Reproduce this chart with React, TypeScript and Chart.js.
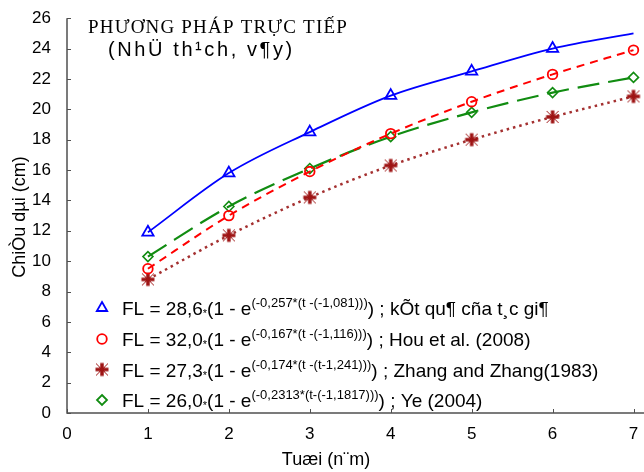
import React, { useEffect, useRef } from 'react';
import { Chart, registerables } from 'chart.js';
Chart.register(...registerables);

// ---- data ----
const ages = [1, 2, 3, 4, 5, 6, 7];
const tacGia = [11.9, 15.8, 18.5, 20.9, 22.5, 24.0, 25.0];
const tacGiaMarker = [1, 1, 1, 1, 1, 1, 0];
const hou = [9.5, 13.0, 15.9, 18.4, 20.5, 22.3, 23.9];
const zhang = [8.8, 11.7, 14.2, 16.3, 18.0, 19.5, 20.85];
const ye = [10.3, 13.6, 16.1, 18.2, 19.8, 21.1, 22.1];

const xMin = 0, xMax = 7, xStep = 1;
const yMin = 0, yMax = 26, yStep = 2;

const titleLine1 = 'PHƯƠNG PHÁP TRỰC TIẾP';
const titleLine2 = '(NhÜ th¹ch, v¶y)';
const xTitle = 'Tuæi (n¨m)';
const yTitle = 'ChiÒu dµi (cm)';

const legendCoef = ['FL = 28,6', 'FL = 32,0', 'FL = 27,3', 'FL = 26,0'];
const legendExp = [
  '(-0,257*(t -(-1,081)))',
  '(-0,167*(t -(-1,116)))',
  '(-0,174*(t -(t-1,241)))',
  '(-0,2313*(t-(-1,1817)))',
];
const legendSrc = [
  ') ; kÕt qu¶ cña t¸c gi¶',
  ') ; Hou et al. (2008)',
  ') ; Zhang and Zhang(1983)',
  ') ; Ye (2004)',
];

const BLUE = '#0000ff';
const RED = '#ff0000';
const GREEN = '#118c11';
const DRED = '#9e1414';
const DOT = '#a43030';
const SANS = '"Liberation Sans", Arial, sans-serif';
const SERIF = '"Liberation Serif", "Times New Roman", serif';

function makeStar(color: string): HTMLCanvasElement {
  const c = document.createElement('canvas');
  c.width = 16; c.height = 16;
  const g = c.getContext('2d')!;
  g.strokeStyle = color;
  g.lineWidth = 1;
  g.beginPath();
  g.moveTo(2, 2); g.lineTo(14, 14);
  g.moveTo(14, 2); g.lineTo(2, 14);
  g.stroke();
  g.lineWidth = 3.5;
  g.beginPath();
  g.moveTo(8, 1.5); g.lineTo(8, 14.5);
  g.moveTo(1.5, 8); g.lineTo(14.5, 8);
  g.stroke();
  return c;
}

export default function App() {
  const ref = useRef<HTMLCanvasElement | null>(null);
  useEffect(() => {
    document.body.style.margin = '0';
    const star = makeStar(DRED);

    const drawMarker = (ctx: CanvasRenderingContext2D, kind: string, x: number, y: number) => {
      ctx.save();
      ctx.lineWidth = 1.8;
      ctx.beginPath();
      if (kind === 'tri') {
        const r = 6;
        ctx.strokeStyle = BLUE;
        ctx.moveTo(x, y - r);
        ctx.lineTo(x + r * 0.866, y + r * 0.5);
        ctx.lineTo(x - r * 0.866, y + r * 0.5);
        ctx.closePath();
        ctx.stroke();
      } else if (kind === 'circ') {
        ctx.strokeStyle = RED;
        ctx.arc(x, y, 4.8, 0, Math.PI * 2);
        ctx.stroke();
      } else if (kind === 'dia') {
        const r = 5;
        ctx.strokeStyle = GREEN;
        ctx.moveTo(x, y - r); ctx.lineTo(x + r, y); ctx.lineTo(x, y + r); ctx.lineTo(x - r, y);
        ctx.closePath();
        ctx.stroke();
      } else {
        ctx.drawImage(star, x - 8, y - 8);
      }
      ctx.restore();
    };

    const decor = {
      id: 'decor',
      beforeDatasetsDraw(chart: any) {
        const { ctx, chartArea } = chart;
        const xs = chart.scales.x, ys = chart.scales.y;
        ctx.save();
        ctx.strokeStyle = '#505050';
        ctx.lineWidth = 1.5;
        ctx.beginPath();
        ctx.moveTo(chartArea.left, chartArea.top);
        ctx.lineTo(chartArea.left, chartArea.bottom);
        ctx.lineTo(chart.width, chartArea.bottom);
        ctx.stroke();
        ctx.lineWidth = 1;
        ctx.beginPath();
        for (let v = yMin; v <= yMax; v += yStep) {
          const py = Math.round(ys.getPixelForValue(v)) + 0.5;
          ctx.moveTo(chartArea.left, py);
          ctx.lineTo(chartArea.left + 4, py);
        }
        for (let v = xMin; v <= xMax; v += xStep) {
          const px = Math.round(xs.getPixelForValue(v)) + 0.5;
          ctx.moveTo(px, chartArea.bottom);
          ctx.lineTo(px, chartArea.bottom - 4);
        }
        ctx.stroke();
        ctx.restore();
      },
      afterDraw(chart: any) {
        const { ctx } = chart;
        ctx.save();
        ctx.fillStyle = '#000';
        ctx.textBaseline = 'alphabetic';
        ctx.textAlign = 'left';
        // title
        ctx.font = `19px ${SERIF}`;
        (ctx as any).letterSpacing = '1.2px';
        ctx.fillText(titleLine1, 88, 33);
        ctx.font = `20px ${SANS}`;
        (ctx as any).letterSpacing = '2.6px';
        ctx.fillText(titleLine2, 108, 56);
        (ctx as any).letterSpacing = '0px';
        // x title
        ctx.font = `18px ${SANS}`;
        ctx.textAlign = 'center';
        ctx.fillText(xTitle, 326, 465);
        // y title
        ctx.save();
        ctx.translate(25, 217);
        ctx.rotate(-Math.PI / 2);
        ctx.fillText(yTitle, 0, 0);
        ctx.restore();
        // legend
        ctx.textAlign = 'left';
        const kinds = ['tri', 'circ', 'star', 'dia'];
        const rowY = [308, 339, 369.5, 400];
        for (let i = 0; i < 4; i++) {
          const cy = rowY[i];
          drawMarker(ctx, kinds[i], 102, cy);
          const base = cy + 7;
          let x = 122;
          ctx.font = `19px ${SANS}`;
          ctx.fillText(legendCoef[i], x, base);
          x += ctx.measureText(legendCoef[i]).width;
          ctx.font = `11px ${SANS}`;
          ctx.fillText('*', x, base + 2);
          x += ctx.measureText('*').width;
          ctx.font = `19px ${SANS}`;
          ctx.fillText('(1 - e', x, base);
          x += ctx.measureText('(1 - e').width;
          ctx.font = `13px ${SANS}`;
          ctx.fillText(legendExp[i], x, base - 8);
          x += ctx.measureText(legendExp[i]).width;
          ctx.font = `19px ${SANS}`;
          ctx.fillText(legendSrc[i], x, base);
        }
        ctx.restore();
      },
    };

    const pts = (arr: number[]) => arr.map((v, i) => ({ x: ages[i], y: v }));

    const chart = new Chart(ref.current!, {
      type: 'line',
      data: {
        datasets: [
          {
            label: 'tacgia',
            data: pts(tacGia),
            borderColor: BLUE,
            borderWidth: 1.8,
            pointStyle: 'triangle',
            pointRadius: tacGiaMarker.map((m) => (m ? 6.5 : 0)),
            pointBorderColor: BLUE,
            pointBackgroundColor: 'rgba(0,0,0,0)',
            pointBorderWidth: 1.8,
            cubicInterpolationMode: 'monotone',
            clip: false as any,
          },
          {
            label: 'hou',
            data: pts(hou),
            borderColor: RED,
            borderWidth: 2,
            borderDash: [8, 6],
            pointStyle: 'circle',
            pointRadius: 4.8,
            pointBorderColor: RED,
            pointBackgroundColor: 'rgba(0,0,0,0)',
            pointBorderWidth: 1.8,
            cubicInterpolationMode: 'monotone',
            clip: false as any,
          },
          {
            label: 'zhang',
            data: pts(zhang),
            borderColor: DOT,
            borderWidth: 2.5,
            borderDash: [2.5, 4],
            pointStyle: star as any,
            pointRadius: 8,
            cubicInterpolationMode: 'monotone',
            clip: false as any,
          },
          {
            label: 'ye',
            data: pts(ye),
            borderColor: GREEN,
            borderWidth: 2.2,
            borderDash: [22, 9],
            pointStyle: 'rectRot',
            pointRadius: 5,
            pointBorderColor: GREEN,
            pointBackgroundColor: 'rgba(0,0,0,0)',
            pointBorderWidth: 1.6,
            cubicInterpolationMode: 'monotone',
            clip: false as any,
          },
        ],
      },
      options: {
        animation: false,
        responsive: false,
        layout: { padding: { top: 18, right: 6, left: 0, bottom: 0 } },
        plugins: { legend: { display: false }, tooltip: { enabled: false } },
        scales: {
          x: {
            type: 'linear',
            min: xMin,
            max: xMax,
            grid: { display: false },
            border: { display: false },
            ticks: { stepSize: xStep, color: '#000', font: { size: 17, family: SANS }, padding: 3, maxRotation: 0 },
            afterFit: (s: any) => { s.height = 59; },
          },
          y: {
            type: 'linear',
            min: yMin,
            max: yMax,
            grid: { display: false },
            border: { display: false },
            ticks: { stepSize: yStep, color: '#000', font: { size: 17, family: SANS }, padding: 8 },
            afterFit: (s: any) => { s.width = 67; },
          },
        },
      } as any,
      plugins: [decor],
    });
    return () => chart.destroy();
  }, []);
  return (
    <canvas
      ref={ref}
      width={644}
      height={472}
      style={{ position: 'absolute', left: 0, top: 0, width: 644, height: 472 }}
    />
  );
}
